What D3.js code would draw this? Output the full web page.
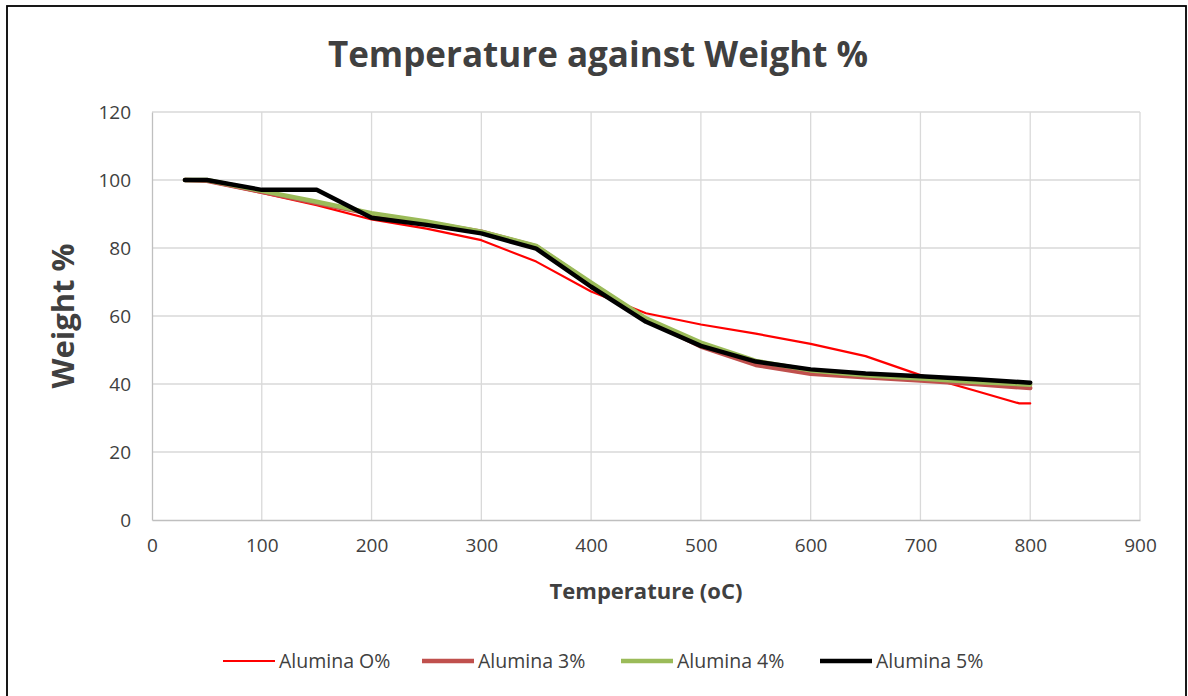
<!DOCTYPE html>
<html><head><meta charset="utf-8">
<script src="https://cdn.jsdelivr.net/npm/d3@7"></script>
<style>body{margin:0;background:#fff}svg{display:block}</style>
</head><body>
<svg id="c" width="1188" height="696"></svg>
<script>
const title = "Temperature against Weight %";
const xTitle = "Temperature (oC)";
const yTitle = "Weight %";
const xTicks = [0,100,200,300,400,500,600,700,800,900];
const yTicks = [0,20,40,60,80,100,120];
const seriesNames = ["Alumina O%","Alumina 3%","Alumina 4%","Alumina 5%"];
const seriesColors = ["#ff0000","#c0504d","#9bbb59","#000000"];
const seriesWidths = [2.2,4.5,4.5,4.5];
const tempsRed = [30,50,100,150,200,250,300,350,400,450,500,550,600,650,700,750,790,800];
const temps = [30,50,100,150,200,250,300,350,400,450,500,550,600,650,700,750,800];
const alumina0 = [100,99.6,96.2,92.6,88.4,85.7,82.3,76,67.2,60.8,57.5,54.8,51.8,48.2,42.6,38,34.3,34.3];
const alumina3 = [100,99.8,96.5,93.2,90,87.5,84.8,80.5,69.5,59,51,45.6,43,42,41,40,38.8];
const alumina4 = [100,100,96.8,93.6,90.2,87.8,84.8,80.6,69.8,59.3,52.2,46.8,44,42.6,41.6,40.6,39.8];
const alumina5 = [100,100,97.1,97.1,88.9,86.8,84.3,79.8,68.6,58.3,51.2,46.6,44.3,43.1,42.3,41.4,40.4];

const seriesX = [tempsRed, temps, temps, temps];
const seriesY = [alumina0, alumina3, alumina4, alumina5];

const svg = d3.select("#c");
const font = "'Open Sans', Lato, sans-serif";
const txt = "#404040";
svg.append("rect").attr("x",7).attr("y",6).attr("width",1179).attr("height",700)
  .attr("fill","#fff").attr("stroke","#000").attr("stroke-width",1.8);

const L=152,R=1140,T=112,B=520;
const x = d3.scaleLinear().domain([0,900]).range([L,R]);
const y = d3.scaleLinear().domain([0,120]).range([B,T]);

const g = svg.append("g");
g.selectAll(".vg").data(xTicks.filter(d=>d>0)).join("line")
  .attr("x1",d=>x(d)).attr("x2",d=>x(d)).attr("y1",T).attr("y2",B)
  .attr("stroke","#d9d9d9").attr("stroke-width",1.3);
g.selectAll(".hg").data(yTicks.filter(d=>d>0)).join("line")
  .attr("y1",d=>y(d)).attr("y2",d=>y(d)).attr("x1",L).attr("x2",R)
  .attr("stroke","#d9d9d9").attr("stroke-width",1.3);

const xAxis = d3.axisBottom(x).tickValues(xTicks).tickSize(0).tickPadding(19);
const yAxis = d3.axisLeft(y).tickValues(yTicks).tickSize(0).tickPadding(21);
const gx = svg.append("g").attr("transform",`translate(0,${B})`).call(xAxis);
const gy = svg.append("g").attr("transform",`translate(${L},0)`).call(yAxis);
[gx,gy].forEach(a=>{
  a.select(".domain").attr("stroke","#bfbfbf").attr("stroke-width",1.3);
  a.selectAll("text").attr("font-family",font).attr("font-size",19).attr("fill",txt);
});
gx.selectAll("text").attr("dy","0.71em");

const line = d3.line().x(d=>x(d[0])).y(d=>y(d[1]));
seriesY.forEach((vals,i)=>{
  const pts = vals.map((v,j)=>[seriesX[i][j],v]);
  svg.append("path").datum(pts).attr("d",line).attr("fill","none")
    .attr("stroke",seriesColors[i]).attr("stroke-width",seriesWidths[i])
    .attr("stroke-linejoin","round").attr("stroke-linecap","round");
});

svg.append("text").attr("x",598).attr("y",67).attr("text-anchor","middle")
  .attr("font-family",font).attr("font-weight","bold").attr("font-size",35).attr("fill",txt).text(title);
svg.append("text").attr("x",(L+R)/2).attr("y",599).attr("text-anchor","middle")
  .attr("font-family",font).attr("font-weight","bold").attr("font-size",22).attr("fill",txt).text(xTitle);
svg.append("text").attr("transform",`translate(74,${(T+B)/2}) rotate(-90)`).attr("text-anchor","middle")
  .attr("font-family",font).attr("font-weight","bold").attr("font-size",31).attr("fill",txt).text(yTitle);

const lg = svg.append("g");
seriesNames.forEach((n,i)=>{
  const x0 = 223 + i*199;
  lg.append("line").attr("x1",x0).attr("x2",x0+52).attr("y1",661).attr("y2",661)
    .attr("stroke",seriesColors[i]).attr("stroke-width",seriesWidths[i]);
  lg.append("text").attr("x",x0+56).attr("y",661).attr("dy","0.35em")
    .attr("font-family",font).attr("font-size",19.5).attr("fill",txt).text(n);
});
</script>
</body></html>
